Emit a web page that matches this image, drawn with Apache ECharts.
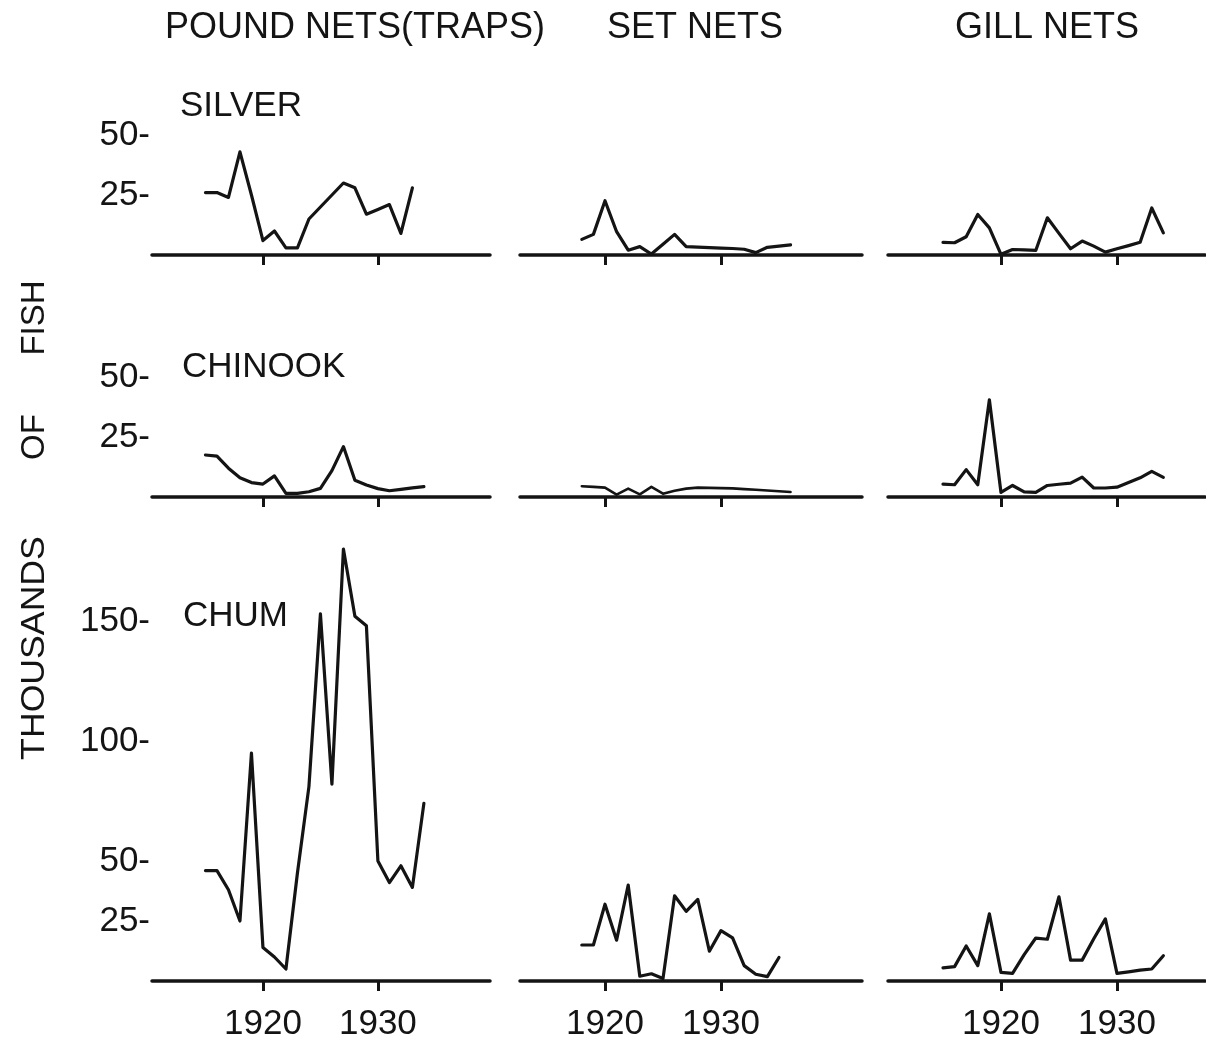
<!DOCTYPE html>
<html>
<head>
<meta charset="utf-8">
<title>Salmon catch by gear</title>
<script src="https://cdn.jsdelivr.net/npm/echarts@6/dist/echarts.min.js"></script>
<style>
  html, body { margin: 0; padding: 0; background: #ffffff; }
  #chart { width: 1206px; height: 1042px; }
</style>
</head>
<body>
<div id="chart"></div>
<script>
// Catch in thousands of fish, by gear (columns) and species (rows)
const gearNames = ['POUND NETS(TRAPS)', 'SET NETS', 'GILL NETS'];
const speciesNames = ['SILVER', 'CHINOOK', 'CHUM'];

// Years covered by each gear's record
const poundYears = [1915, 1916, 1917, 1918, 1919, 1920, 1921, 1922, 1923, 1924,
                    1925, 1926, 1927, 1928, 1929, 1930, 1931, 1932, 1933, 1934];
const setYears   = [1918, 1919, 1920, 1921, 1922, 1923, 1924, 1925, 1926, 1927,
                    1928, 1929, 1930, 1931, 1932, 1933, 1934, 1935, 1936];
const gillYears  = [1915, 1916, 1917, 1918, 1919, 1920, 1921, 1922, 1923, 1924,
                    1925, 1926, 1927, 1928, 1929, 1930, 1931, 1932, 1933, 1934];

// Pound nets (traps)
const silverPound  = [26, 26, 24, 43, 25, 6, 10, 3, 3, 15, 20, 25, 30, 28, 17, 19, 21, 9, 28];
const chinookPound = [17.5, 17, 12, 8, 6, 5.4, 8.8, 1.5, 1.5, 2.2, 3.6, 11, 21, 7, 5, 3.5, 2.6, 3.2, 3.8, 4.3];
const chumPound    = [46, 46, 38, 25, 95, 14, 10, 5, 45, 81, 153, 82, 180, 152, 148, 50, 41, 48, 39, 74];

// Set nets
const silverSet  = [6.5, 8.6, 22.6, 9.7, 2, 3.5, 0.4, 4.5, 8.6, 3.5, 3.3, 3.1, 2.9, 2.7, 2.4, 1, 3.2, 3.7, 4.2];
const chinookSet = [4.5, 4.2, 3.9, 1.0, 3.5, 1.1, 4.2, 1.4, 2.6, 3.5, 3.9, 3.8, 3.7, 3.6, 3.3, 3.0, 2.7, 2.4, 2.1];
const chumSet    = [15, 15, 32, 17, 40, 2, 3, 1, 35.5, 29, 34, 12.4, 21, 18, 6.4, 2.8, 1.8, 9.8];

// Gill nets
const silverGill  = [5.3, 5.1, 7.6, 16.9, 11.3, 0.3, 2.3, 2.1, 1.9, 15.5, 9, 2.6, 5.8, 3.7, 1.2, 2.6, 3.9, 5.3, 19.6, 9.2];
const chinookGill = [5.4, 5.1, 11.4, 5.1, 40.5, 1.9, 4.8, 2.1, 1.9, 4.8, 5.3, 5.8, 8.3, 3.75, 3.75, 4.1, 6, 8, 10.7, 8.2];
const chumGill    = [5.5, 6, 14.6, 6.4, 28, 3.6, 3.2, 11, 17.9, 17.4, 35.1, 8.7, 8.7, 17.6, 25.9, 3.2, 3.8, 4.5, 5, 10.5];

// Tick labels
const yearTicks = [1920, 1930];
const smallTicks = [25, 50];
const chumTicks = [25, 50, 100, 150];

const ink = '#141414';
const font = '"Liberation Sans", Arial, sans-serif';

// Panel frame: one column per gear, one row per species
const columns = [
  { left: 152, width: 338, min: 1910.35, max: 1939.75, years: poundYears },
  { left: 520, width: 342, min: 1912.67, max: 1942.16, years: setYears },
  { left: 888, width: 317, min: 1910.26, max: 1937.59, years: gillYears }
];
const rows = [
  { top: 111, height: 144, max: 60, ticks: smallTicks, values: [silverPound, silverSet, silverGill] },
  { top: 353, height: 144, max: 60, ticks: smallTicks, values: [chinookPound, chinookSet, chinookGill] },
  { top: 537, height: 446, max: 185, ticks: chumTicks, values: [chumPound, chumSet, chumGill] }
];

const grid = [], xAxis = [], yAxis = [], series = [];
rows.forEach(function (row, r) {
  columns.forEach(function (col, c) {
    const idx = grid.length;
    grid.push({ left: col.left, top: row.top, width: col.width, height: row.height, containLabel: false });
    xAxis.push({
      gridIndex: idx, type: 'value', min: col.min, max: col.max,
      axisLine: { show: true, onZero: false, lineStyle: { color: ink, width: 3.5 } },
      axisTick: { show: true, customValues: yearTicks, length: 10, lineStyle: { color: ink, width: 3 } },
      axisLabel: {
        show: r === rows.length - 1, customValues: yearTicks, margin: 26,
        color: ink, fontFamily: font, fontSize: 35,
        formatter: function (v) { return String(v); }
      },
      splitLine: { show: false }
    });
    yAxis.push({
      gridIndex: idx, type: 'value', min: 0, max: row.max,
      axisLine: { show: false }, axisTick: { show: false }, splitLine: { show: false },
      axisLabel: {
        show: c === 0, customValues: row.ticks, margin: 2,
        color: ink, fontFamily: font, fontSize: 35,
        formatter: function (v) { return v + '-'; }
      }
    });
    const vals = row.values[c];
    series.push({
      type: 'line', xAxisIndex: idx, yAxisIndex: idx,
      showSymbol: false, silent: true, animation: false,
      lineStyle: { color: ink, width: (r === 1 && c === 1) ? 2.6 : 3.2, join: 'round', cap: 'round' },
      data: vals.map(function (v, i) { return [col.years[i], v]; })
    });
  });
});

const textStyle = { fill: ink, font: '34px ' + font };
const graphic = [
  { type: 'text', x: 355, y: 28, style: Object.assign({}, textStyle, { text: gearNames[0], align: 'center', verticalAlign: 'middle', font: '36px ' + font }) },
  { type: 'text', x: 695, y: 28, style: Object.assign({}, textStyle, { text: gearNames[1], align: 'center', verticalAlign: 'middle', font: '36px ' + font }) },
  { type: 'text', x: 1047, y: 28, style: Object.assign({}, textStyle, { text: gearNames[2], align: 'center', verticalAlign: 'middle', font: '36px ' + font }) },
  { type: 'text', x: 180, y: 106, style: Object.assign({}, textStyle, { text: speciesNames[0], align: 'left', verticalAlign: 'middle', font: '35px ' + font }) },
  { type: 'text', x: 182, y: 367, style: Object.assign({}, textStyle, { text: speciesNames[1], align: 'left', verticalAlign: 'middle', font: '35px ' + font }) },
  { type: 'text', x: 183, y: 616, style: Object.assign({}, textStyle, { text: speciesNames[2], align: 'left', verticalAlign: 'middle', font: '35px ' + font }) },
  // vertical axis title, one word at a time
  { type: 'text', x: 35, y: 648, rotation: Math.PI / 2, scaleX: 1.08, style: Object.assign({}, textStyle, { text: 'THOUSANDS', align: 'center', verticalAlign: 'middle', font: '33px ' + font }) },
  { type: 'text', x: 35, y: 437, rotation: Math.PI / 2, style: Object.assign({}, textStyle, { text: 'OF', align: 'center', verticalAlign: 'middle', font: '33px ' + font }) },
  { type: 'text', x: 35, y: 318, rotation: Math.PI / 2, style: Object.assign({}, textStyle, { text: 'FISH', align: 'center', verticalAlign: 'middle', font: '33px ' + font }) }
];

const chart = echarts.init(document.getElementById('chart'), null, { renderer: 'canvas' });
chart.setOption({
  backgroundColor: '#ffffff',
  animation: false,
  grid: grid, xAxis: xAxis, yAxis: yAxis, series: series, graphic: graphic
});
</script>
</body>
</html>
